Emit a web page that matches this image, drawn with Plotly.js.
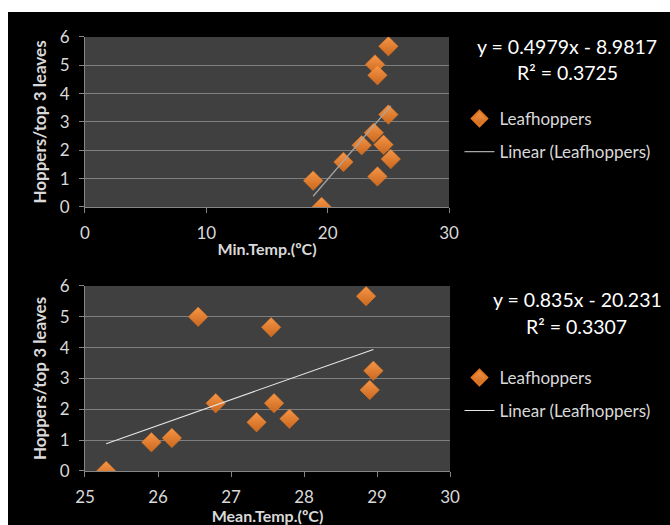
<!DOCTYPE html>
<html>
<head>
<meta charset="utf-8">
<script src="https://cdn.plot.ly/plotly-3.0.1.min.js"></script>
<style>
html,body{margin:0;padding:0;background:#ffffff;}
#chart{position:absolute;left:8px;top:12px;width:662px;height:513px;}
</style>
</head>
<body>
<div id="chart"></div>
<script>
// Data
var minTemp  = [18.8, 19.5, 21.3, 22.8, 23.8, 23.9, 24.1, 24.1, 24.6, 25.0, 25.0, 25.2];
var hoppersA = [0.93, 0.0, 1.59, 2.18, 2.62, 5.03, 4.65, 1.08, 2.2, 5.67, 3.26, 1.69];
var meanTemp = [25.29, 25.91, 26.19, 26.55, 26.79, 27.35, 27.55, 27.59, 27.80, 28.85, 28.90, 28.95];
var hoppersB = [0.0, 0.93, 1.07, 5.0, 2.2, 1.58, 4.66, 2.2, 1.69, 5.67, 2.63, 3.25];
var fitA = {slope: 0.4979, intercept: -8.9817, r2: 0.3725};
var fitB = {slope: 0.835, intercept: -20.231, r2: 0.3307};
var xTicksA = [0, 10, 20, 30];
var xTicksB = [25, 26, 27, 28, 29, 30];
var yTicks = [0, 1, 2, 3, 4, 5, 6];
var seriesName = 'Leafhoppers';
var xTitleA = 'Min.Temp.(ºC)';
var xTitleB = 'Mean.Temp.(ºC)';
var yTitle = 'Hoppers/top 3 leaves';

function fitLine(xs, fit) {
  var lo = Math.min.apply(null, xs), hi = Math.max.apply(null, xs);
  return {x: [lo, hi], y: [fit.slope * lo + fit.intercept, fit.slope * hi + fit.intercept]};
}
function eqText(fit) {
  var b = fit.intercept;
  return 'y = ' + fit.slope + 'x ' + (b < 0 ? '- ' : '+ ') + Math.abs(b);
}

var FONT = 'Lato, "Open Sans", sans-serif';
var txt = '#d9d9d9';
var marker = {symbol: 'diamond', size: 15, color: '#F79646',
  gradient: {type: 'vertical', color: '#C9681F'},
  line: {color: '#E2771F', width: 0.5}};

var lA = fitLine(minTemp, fitA), lB = fitLine(meanTemp, fitB);

var traces = [
  {x: minTemp, y: hoppersA, type: 'scatter', mode: 'markers', name: seriesName,
   marker: marker, xaxis: 'x', yaxis: 'y', legend: 'legend'},
  {x: lA.x, y: lA.y, type: 'scatter', mode: 'lines', name: 'Linear (' + seriesName + ')',
   line: {color: '#a6a6a6', width: 1.2}, xaxis: 'x', yaxis: 'y', legend: 'legend2'},
  {x: meanTemp, y: hoppersB, type: 'scatter', mode: 'markers', name: seriesName,
   marker: marker, xaxis: 'x2', yaxis: 'y2', legend: 'legend3'},
  {x: lB.x, y: lB.y, type: 'scatter', mode: 'lines', name: 'Linear (' + seriesName + ')',
   line: {color: '#e6e6e6', width: 1.1}, xaxis: 'x2', yaxis: 'y2', legend: 'legend4'}
];

function xax(range, ticks, title, domain, anchor, standoff) {
  return {domain: domain, range: range, tickvals: ticks, anchor: anchor,
    showgrid: false, zeroline: false, showline: true, linecolor: '#868686', linewidth: 1,
    ticks: 'outside', ticklen: 5, tickcolor: '#868686', ticklabelstandoff: 6,
    tickfont: {family: FONT, size: 17, color: txt},
    title: {text: title, font: {family: FONT, size: 16, color: txt, weight: 'bold'}, standoff: standoff},
    fixedrange: true};
}
function yax(domain, anchor) {
  return {domain: domain, range: [0, 6], tickvals: yTicks, anchor: anchor,
    showgrid: true, gridcolor: '#7f7f7f', gridwidth: 1, zeroline: false,
    showline: true, linecolor: '#868686', linewidth: 1,
    ticks: 'outside', ticklen: 5, tickcolor: '#868686', ticklabelstandoff: 6,
    tickfont: {family: FONT, size: 17, color: txt},
    title: {text: yTitle, font: {family: FONT, size: 17, color: txt, weight: 'bold'}, standoff: 8},
    fixedrange: true};
}

var legFont = {family: FONT, size: 17, color: txt};
function leg(y, sizing) {
  return {x: 0.682, y: y, xanchor: 'left', yanchor: 'top', bgcolor: 'rgba(0,0,0,0)',
    font: legFont, itemsizing: sizing};
}
var layout = {
  width: 662, height: 513,
  margin: {l: 0, r: 0, t: 0, b: 0},
  paper_bgcolor: '#000000', plot_bgcolor: '#404040',
  showlegend: true,
  xaxis: xax([0, 30], xTicksA, xTitleA, [0.1163, 0.6662], 'y', 1),
  yaxis: yax([0.6199, 0.9513], 'x'),
  xaxis2: xax([25, 30], xTicksB, xTitleB, [0.1163, 0.6677], 'y2', 7),
  yaxis2: yax([0.1053, 0.4659], 'x2'),
  legend: leg(0.8265, 'constant'),
  legend2: leg(0.7622, 'trace'),
  legend3: leg(0.3216, 'constant'),
  legend4: leg(0.2573, 'trace'),
  annotations: [
    {xref: 'paper', yref: 'paper', x: 0.8445, y: 0.9318, text: eqText(fitA), showarrow: false,
     font: {family: FONT, size: 19.5, color: '#ffffff'}, xanchor: 'center', yanchor: 'middle'},
    {xref: 'paper', yref: 'paper', x: 0.8445, y: 0.8811, text: 'R² = ' + fitA.r2, showarrow: false,
     font: {family: FONT, size: 19.5, color: '#ffffff'}, xanchor: 'center', yanchor: 'middle'},
    {xref: 'paper', yref: 'paper', x: 0.8610, y: 0.4386, text: eqText(fitB), showarrow: false,
     font: {family: FONT, size: 19.5, color: '#ffffff'}, xanchor: 'center', yanchor: 'middle'},
    {xref: 'paper', yref: 'paper', x: 0.8595, y: 0.3860, text: 'R² = ' + fitB.r2, showarrow: false,
     font: {family: FONT, size: 19.5, color: '#ffffff'}, xanchor: 'center', yanchor: 'middle'}
  ]
};

Plotly.newPlot('chart', traces, layout, {displayModeBar: false, staticPlot: true});
</script>
</body>
</html>
